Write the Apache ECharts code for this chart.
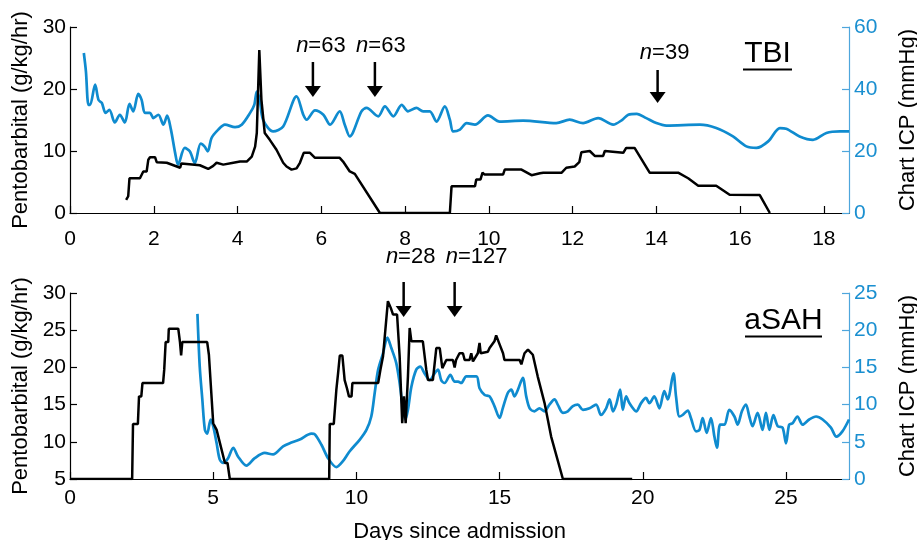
<!DOCTYPE html>
<html><head><meta charset="utf-8">
<script src="https://cdn.jsdelivr.net/npm/echarts@6/dist/echarts.min.js"></script>
<style>html,body{margin:0;padding:0;background:#fff}#c{width:917px;height:540px}</style>
</head><body><div id="c"></div>
<script>
// ---- DATA ----
const tbiIcp = [[0.33,51.6],[0.38,45.7],[0.44,34.9],[0.48,34.9],[0.60,41.4],[0.68,36.5],[0.76,35.5],[0.85,32.3],[0.94,33.3],[1.07,29.2],[1.19,31.7],[1.31,29.2],[1.42,35.2],[1.51,32.8],[1.63,38.4],[1.71,36.5],[1.79,32.3],[1.91,32.3],[1.99,30.6],[2.11,31.7],[2.23,28.5],[2.32,31.4],[2.41,26.9],[2.51,19.4],[2.58,15.6],[2.74,21],[2.86,19.9],[2.98,16.1],[3.12,22.4],[3.21,21.5],[3.29,19.9],[3.38,24.2],[3.54,26.9],[3.70,28.5],[3.94,27.7],[4.10,28.5],[4.30,32.3],[4.40,34.9],[4.46,39.2],[4.53,36.5],[4.61,30.1],[4.85,26.3],[5.09,27.9],[5.41,37.6],[5.57,31.7],[5.65,30.1],[5.85,33.1],[6.05,31.7],[6.21,28.5],[6.44,32.8],[6.56,28.5],[6.68,24.7],[6.96,32.8],[7.08,33.9],[7.36,31.2],[7.52,34.4],[7.72,31.2],[7.92,34.9],[8.07,32.8],[8.27,33.9],[8.43,32.8],[8.59,32.8],[8.75,29.5],[8.95,34.4],[9.07,30.1],[9.15,26.3],[9.31,26.9],[9.47,29.0],[9.67,28.5],[9.98,31.5],[10.26,29.5],[10.82,29.8],[11.61,29.0],[11.93,30.1],[12.25,29.0],[12.61,30.6],[12.97,28.5],[13.17,29.9],[13.33,31.7],[13.53,32.0],[13.76,30.6],[14.0,29.0],[14.24,28.2],[15.04,28.5],[15.43,27.4],[15.83,24.7],[16.15,21.5],[16.39,21.0],[16.67,23.1],[16.95,27.4],[17.10,27.2],[17.42,24.7],[17.74,23.6],[18.06,25.8],[18.38,26.3],[18.6,26.3]];
const tbiDrug = [[1.34,2.1],[1.39,2.7],[1.42,5.6],[1.67,5.6],[1.75,6.7],[1.83,6.7],[1.87,8.6],[1.91,9.0],[2.03,9.0],[2.07,8.2],[2.31,8.1],[2.55,7.5],[2.63,7.3],[2.66,8.0],[2.70,7.7],[3.10,7.7],[3.30,7.1],[3.42,7.6],[3.50,8.1],[3.66,7.8],[3.90,8.1],[4.06,8.3],[4.22,8.3],[4.34,9.1],[4.42,10.7],[4.46,12.9],[4.52,26.3],[4.57,18.3],[4.65,12.9],[4.77,11.8],[4.93,10.2],[5.09,8.1],[5.17,7.5],[5.29,7.0],[5.41,7.2],[5.49,8.1],[5.58,9.7],[5.73,9.7],[5.85,8.9],[6.44,8.9],[6.52,8.3],[6.68,6.7],[6.80,6.3],[7.40,0],[9.07,0],[9.11,4.3],[9.67,4.3],[9.70,5.4],[9.80,5.4],[9.85,6.5],[9.90,6.2],[10.34,6.2],[10.38,7.0],[10.78,7.0],[11.02,6.1],[11.22,6.4],[11.30,6.5],[11.74,6.5],[11.85,7.3],[12.05,7.5],[12.16,8.2],[12.21,9.8],[12.41,10.0],[12.53,9.2],[12.73,9.2],[12.77,10.0],[13.21,9.7],[13.28,10.5],[13.48,10.5],[13.84,6.5],[14.52,6.5],[14.76,5.6],[15.0,4.4],[15.43,4.4],[15.75,2.95],[16.47,2.9],[16.71,0]];
const sahIcp = [[4.45,22.2],[4.53,15.1],[4.62,10.7],[4.71,6.6],[4.79,6.1],[4.91,8.0],[5.0,7.1],[5.12,4.8],[5.23,2.6],[5.35,2.15],[5.52,2.8],[5.70,4.2],[5.87,3.0],[6.16,1.8],[6.45,2.8],[6.80,3.5],[7.09,3.3],[7.44,4.4],[7.73,4.9],[8.02,5.3],[8.43,6.1],[8.55,6.0],[8.78,4.6],[9.01,2.8],[9.30,1.6],[9.53,2.4],[9.76,3.7],[10.12,5.3],[10.35,6.6],[10.52,8.4],[10.64,11.6],[10.76,14.7],[10.93,16.9],[11.08,19.0],[11.22,17.6],[11.39,15.6],[11.51,12.9],[11.60,10.2],[11.71,8.0],[11.80,9.3],[11.92,12.4],[12.09,14.7],[12.23,15.1],[12.38,14.2],[12.56,13.3],[12.73,14.2],[12.85,14.7],[12.96,13.3],[13.08,12.9],[13.28,14.0],[13.43,13.1],[13.55,13.1],[13.66,12.9],[13.84,13.8],[14.19,13.8],[14.30,12.2],[14.48,11.3],[14.65,11.1],[14.82,9.8],[15.0,8.2],[15.11,9.5],[15.29,11.6],[15.41,12.0],[15.52,11.1],[15.64,12.0],[15.81,13.6],[15.93,11.1],[16.05,9.5],[16.22,9.1],[16.39,9.5],[16.57,9.1],[16.74,10.0],[16.92,10.7],[17.03,10.0],[17.21,8.9],[17.38,9.1],[17.56,9.8],[17.73,10.0],[17.91,9.3],[18.14,9.5],[18.37,10.0],[18.54,8.6],[18.72,9.5],[18.84,10.7],[18.96,9.1],[19.07,10.0],[19.21,12.0],[19.30,9.3],[19.42,11.1],[19.53,10.2],[19.77,9.1],[19.94,10.2],[20.11,10.9],[20.23,10.2],[20.40,11.1],[20.58,9.5],[20.75,11.8],[20.87,10.7],[21.07,14.2],[21.16,11.1],[21.28,8.4],[21.39,8.6],[21.57,9.2],[21.68,8.2],[21.86,6.4],[21.98,6.6],[22.09,8.2],[22.23,6.2],[22.38,8.2],[22.50,5.7],[22.59,4.2],[22.70,7.3],[22.85,7.3],[23.02,9.3],[23.20,8.4],[23.31,7.3],[23.46,9.1],[23.60,10.0],[23.72,8.4],[23.83,7.1],[24.01,8.9],[24.18,6.6],[24.30,8.9],[24.42,6.6],[24.56,8.6],[24.71,7.1],[24.88,6.9],[25.0,4.8],[25.11,7.3],[25.23,7.5],[25.40,8.4],[25.58,7.3],[25.81,8.0],[26.05,8.4],[26.28,8.0],[26.57,6.9],[26.76,5.7],[26.97,6.4],[27.2,8.0]];
const sahDrug = [[0,5],[2.17,5],[2.20,12.4],[2.37,12.4],[2.41,16.1],[2.49,16.1],[2.53,17.9],[3.25,17.9],[3.29,19.7],[3.34,23.4],[3.43,23.4],[3.45,25.2],[3.78,25.2],[3.84,23.4],[3.88,21.6],[3.92,23.4],[4.79,23.4],[4.85,21.7],[5.0,12.5],[5.12,11.6],[5.41,7.15],[5.50,7.15],[5.58,5],[9.05,5],[9.07,12.4],[9.21,12.4],[9.30,17.0],[9.36,19.2],[9.42,21.6],[9.51,21.6],[9.59,18.3],[9.67,17.2],[9.74,16.1],[9.83,16.1],[9.86,17.9],[10.76,17.9],[10.84,19.7],[10.93,21.5],[11.10,28.9],[11.20,28.0],[11.28,27.1],[11.42,27.1],[11.51,21.5],[11.60,12.5],[11.66,16.1],[11.72,12.5],[11.80,18.8],[11.86,25.3],[11.92,23.5],[12.32,23.5],[12.44,19.7],[12.50,18.3],[12.67,18.3],[12.79,22.6],[12.91,22.6],[13.0,19.9],[13.14,21.0],[13.37,21.0],[13.43,20.0],[13.48,21.0],[13.60,21.9],[13.72,21.9],[13.78,21.0],[13.95,21.0],[14.01,21.9],[14.07,20.8],[14.24,21.9],[14.30,23.3],[14.34,21.9],[14.59,22.1],[14.65,22.6],[14.82,23.5],[14.88,24.3],[15.0,23.1],[15.12,21.9],[15.17,21.0],[15.70,21.0],[15.76,20.4],[15.87,21.9],[15.99,22.4],[16.16,21.7],[16.33,18.8],[16.57,15.2],[16.80,10.7],[17.21,5],[19.63,5]];
const tbiXTicks = [0,2,4,6,8,10,12,14,16,18];
const sahXTicks = [0,5,10,15,20,25];
const tbiArrowDays = [5.8, 7.28, 14.03];
const tbiArrowLabels = ['63','63','39'];
const sahArrowDays = [11.65, 13.43];
const sahArrowLabels = ['28','127'];

// ---- STYLE ----
const FONT = 'Liberation Sans, Arial, Helvetica, sans-serif';
const BLUE = '#0f8bcf';
const BLUE_AX = '#4ea6dc';
const BLUE_TXT = '#1a8fd0';

const chart = echarts.init(document.getElementById('c'), null, {renderer: 'canvas'});

function xAxis(grid, max, ticks, margin, name) {
  return {
    type: 'value', gridIndex: grid, min: 0, max: max,
    axisLine: {show: true, lineStyle: {color: '#000', width: 1.2}},
    axisTick: {show: true, inside: true, length: 7, lineStyle: {color: '#000', width: 1.2}, customValues: ticks},
    axisLabel: {color: '#000', fontSize: 21, fontFamily: FONT, margin: margin, customValues: ticks},
    splitLine: {show: false},
    name: name || '', nameLocation: 'middle', nameGap: 42,
    nameTextStyle: {color: '#000', fontSize: 22, fontFamily: FONT}
  };
}
function yLeft(grid, min, max, interval) {
  return {
    type: 'value', gridIndex: grid, min: min, max: max, interval: interval, position: 'left',
    axisLine: {show: true, lineStyle: {color: '#000', width: 1.2}},
    axisTick: {show: true, inside: true, length: 7, lineStyle: {color: '#000', width: 1.2}},
    axisLabel: {color: '#000', fontSize: 21, fontFamily: FONT, margin: 4},
    splitLine: {show: false},
    name: 'Pentobarbital (g/kg/hr)', nameLocation: 'middle', nameRotate: 90, nameGap: 38,
    nameTextStyle: {color: '#000', fontSize: 22, fontFamily: FONT}
  };
}
function yRight(grid, min, max, interval) {
  return {
    type: 'value', gridIndex: grid, min: min, max: max, interval: interval, position: 'right',
    axisLine: {show: true, lineStyle: {color: BLUE_AX, width: 1.2}},
    axisTick: {show: true, inside: true, length: 7, lineStyle: {color: BLUE_AX, width: 1.2}},
    axisLabel: {color: BLUE_TXT, fontSize: 21, fontFamily: FONT, margin: 5},
    splitLine: {show: false},
    name: 'Chart ICP (mmHg)', nameLocation: 'middle', nameRotate: 90, nameGap: 48,
    nameTextStyle: {color: '#000', fontSize: 22, fontFamily: FONT}
  };
}

const option = {
  animation: false,
  backgroundColor: '#fff',
  grid: [
    {left: 70, right: 68, top: 27, height: 186, outerBoundsMode: 'none', containLabel: false},
    {left: 70, right: 68, top: 293, height: 186, outerBoundsMode: 'none', containLabel: false}
  ],
  xAxis: [
    xAxis(0, 18.6, tbiXTicks, 16),
    xAxis(1, 27.2, sahXTicks, 9, 'Days since admission')
  ],
  yAxis: [
    yLeft(0, 0, 30, 10),
    yRight(0, 0, 60, 20),
    yLeft(1, 5, 30, 5),
    yRight(1, 0, 25, 5)
  ],
  series: [
    {type: 'line', xAxisIndex: 0, yAxisIndex: 1, data: tbiIcp, showSymbol: false, smooth: 0.3,
     lineStyle: {color: BLUE, width: 2.7}, z: 2},
    {type: 'line', xAxisIndex: 0, yAxisIndex: 0, data: tbiDrug, showSymbol: false,
     lineStyle: {color: '#000', width: 2.5}, z: 3},
    {type: 'line', xAxisIndex: 1, yAxisIndex: 3, data: sahIcp, showSymbol: false, smooth: 0.3,
     lineStyle: {color: BLUE, width: 2.7}, z: 2},
    {type: 'line', xAxisIndex: 1, yAxisIndex: 2, data: sahDrug, showSymbol: false,
     lineStyle: {color: '#000', width: 2.5}, z: 3}
  ]
};
chart.setOption(option);

// ---- ANNOTATIONS ----
const g = [];
function arrow(px, yTop, yTip) {
  g.push({type: 'line', shape: {x1: px, y1: yTop, x2: px, y2: yTip - 8}, style: {stroke: '#000', lineWidth: 2.5}, z: 10});
  g.push({type: 'polygon', shape: {points: [[px - 8, yTip - 11], [px + 8, yTip - 11], [px, yTip]]}, style: {fill: '#000'}, z: 10});
}
function nLabel(cx, baseline, num) {
  g.push({type: 'text', x: cx, y: baseline - 7.5, z: 10,
    style: {text: '{i|n}={r|' + num + '}', align: 'center', verticalAlign: 'middle',
      rich: {i: {fontStyle: 'italic', fontSize: 22, fontFamily: FONT, fill: '#000'},
             r: {fontSize: 22, fontFamily: FONT, fill: '#000'}},
      fontSize: 22, fontFamily: FONT, fill: '#000'}});
}
const tbiDx = [8, 6, 7];
tbiArrowDays.forEach((d, i) => {
  const px = chart.convertToPixel({xAxisIndex: 0}, d);
  const top = i < 2 ? 62 : 70;
  const tip = i < 2 ? 97 : 103;
  arrow(px, top, tip);
  nLabel(px + tbiDx[i], i < 2 ? 53 : 60, tbiArrowLabels[i]);
});
const sahDx = [7, 22];
sahArrowDays.forEach((d, i) => {
  const px = chart.convertToPixel({xAxisIndex: 1}, d);
  arrow(px, 282, 317);
  nLabel(px + sahDx[i], 264, sahArrowLabels[i]);
});
function title(cx, baseline, txt, width) {
  g.push({type: 'text', x: cx, y: baseline - 11, z: 10,
    style: {text: txt, align: 'center', verticalAlign: 'middle', fontSize: 30, fontFamily: FONT, fill: '#000'}});
  g.push({type: 'line', shape: {x1: cx - width / 2, y1: baseline + 4.5, x2: cx + width / 2, y2: baseline + 4.5},
    style: {stroke: '#000', lineWidth: 2}, z: 10});
}
title(767.5, 65, 'TBI', 49);
title(783.5, 332, 'aSAH', 77);
chart.setOption({graphic: g});
</script></body></html>
